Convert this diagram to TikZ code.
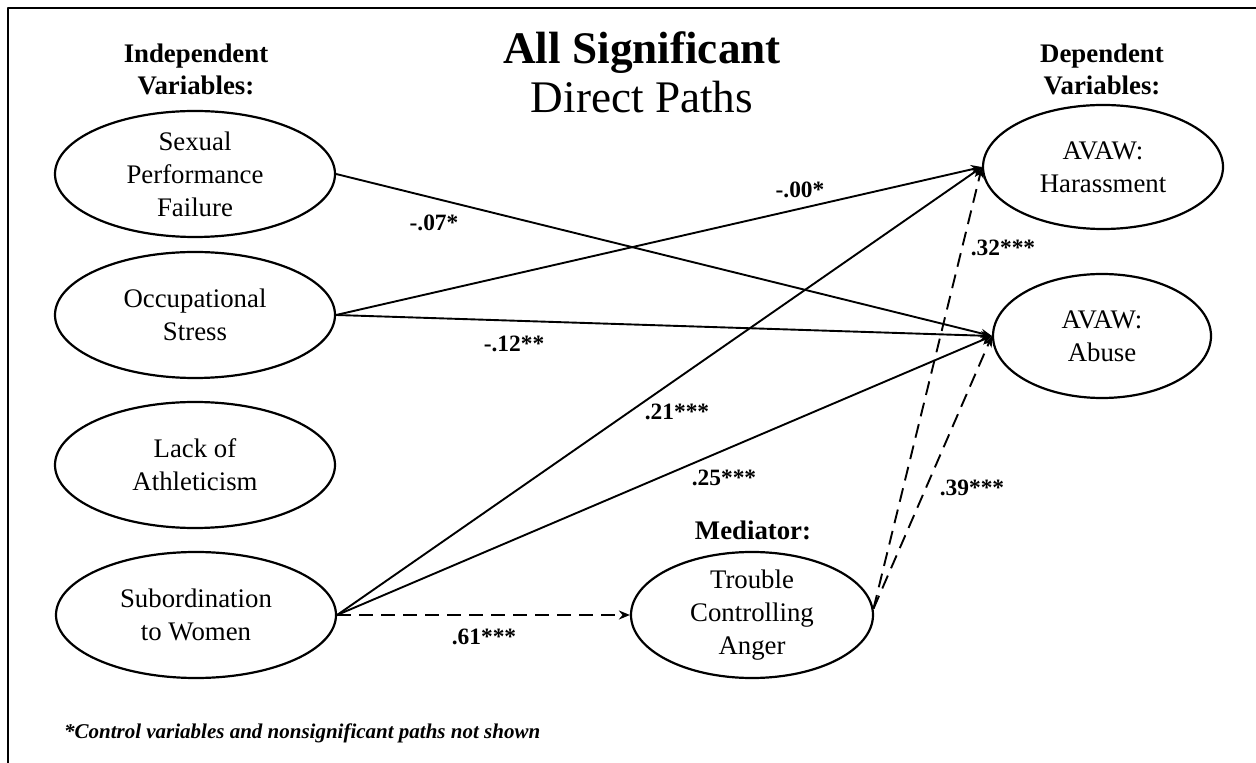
\documentclass[tikz,border=0pt]{standalone}
\usepackage{fontspec}
\setmainfont{Liberation Serif}
\usetikzlibrary{shapes.geometric,arrows.meta}

\begin{document}
\begin{tikzpicture}[x=0.5pt,y=-0.5pt,>={Stealth[length=5.5pt,width=4.5pt]},line join=round,
	var/.style={draw,ellipse,line width=1.1pt,inner sep=0pt,minimum width=140pt,minimum height=63pt},
	txt/.style={align=center,font=\fontsize{13.4}{16.5}\selectfont},
	head/.style={align=center,font=\fontsize{13.4}{16}\selectfont\bfseries},
	coef/.style={font=\fontsize{11.7}{14}\selectfont\bfseries},
	direct/.style={->,line width=0.95pt},
	indirect/.style={->,line width=0.95pt,dash pattern=on 7pt off 4pt}]
	\useasboundingbox (0,0) rectangle (1256,763);
	\draw[line width=1.4pt] (8,763)--(8,8)--(1256,8);
	% titles
	\node[align=center,font=\fontsize{22.6}{24.5}\selectfont] (title) at (642,72) {\textbf{All Significant}\\Direct Paths};
	\node[head] (ivhead) at (196,69) {Independent\\Variables:};
	\node[head] (dvhead) at (1102,69) {Dependent\\Variables:};
	\node[head] (medhead) at (753,530) {Mediator:};
	% variables
	\node[var,label={[txt,name=spf-t]center:{Sexual\\Performance\\Failure}}] (spf) at (195,174) {};
	\node[var,label={[txt,name=occ-t]center:{Occupational\\Stress}}] (occ) at (195,315) {};
	\node[var,label={[txt,name=ath-t]center:{Lack of\\Athleticism}}] (ath) at (195,465) {};
	\node[var,label={[txt,name=sub-t]center:{Subordination\\to Women}}] (sub) at (196,615) {};
	\node[var,minimum width=121pt,label={[txt,name=med-t]center:{Trouble\\Controlling\\Anger}}] (med) at (752,615) {};
	\node[var,minimum width=120pt,minimum height=62pt,label={[txt,name=har-t]center:{AVAW:\\Harassment}}] (har) at (1103,167) {};
	\node[var,minimum width=109pt,minimum height=62pt,label={[txt,name=abu-t]center:{AVAW:\\Abuse}}] (abu) at (1102,336) {};
	\coordinate (medout) at (med.3);
	% paths
	\draw[direct] (spf.east)--(abu.west);
	\draw[direct] (occ.east)--(har.west);
	\draw[direct] (occ.east)--(abu.west);
	\draw[direct] (sub.east)--(har.west);
	\draw[direct] (sub.east)--(abu.west);
	\draw[indirect] (sub.east)--(med.west);
	\draw[indirect] (medout)--(har.west);
	\draw[indirect] (medout)--(abu.west);
	% coefficients
	\node[coef] (c1) at (434,223) {-.07*};
	\node[coef] (c2) at (800,190) {-.00*};
	\node[coef] (c3) at (514,344) {-.12**};
	\node[coef] (c4) at (677,412) {.21***};
	\node[coef] (c5) at (724,478) {.25***};
	\node[coef] (c6) at (484,637) {.61***};
	\node[coef] (c7) at (1003,248) {.32***};
	\node[coef] (c8) at (972,488) {.39***};
	\node[anchor=west,font=\fontsize{10.5}{12}\selectfont\bfseries\itshape] (note) at (57,733) {*Control variables and nonsignificant paths not shown};
\end{tikzpicture}
\end{document}
